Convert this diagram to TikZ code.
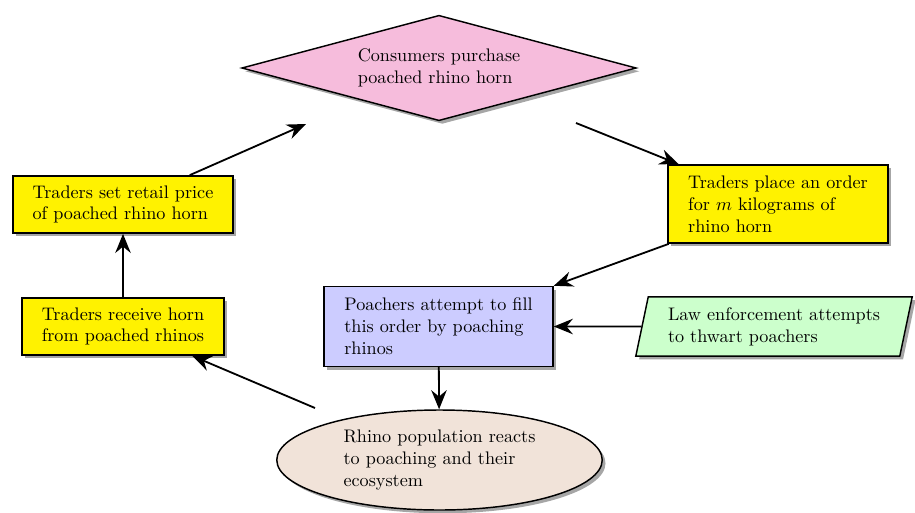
\documentclass[tikz,border=0pt]{standalone}
\usetikzlibrary{shapes.geometric,shadows,arrows.meta}
\definecolor{boxyellow}{RGB}{255,242,0}
\definecolor{diapink}{RGB}{246,188,220}
\definecolor{poachblue}{RGB}{204,204,255}
\definecolor{lawgreen}{RGB}{204,255,204}
\definecolor{rhinobeige}{RGB}{241,227,217}
\begin{document}
\begin{tikzpicture}[x=0.55pt,y=-0.55pt,
  base/.style={draw=black, thick, align=left,
    drop shadow={shadow xshift=1.8pt, shadow yshift=-1.8pt, opacity=0.7}},
  ybox/.style={base, rectangle, fill=boxyellow, inner sep=0pt},
  arr/.style={-{Stealth[length=10.5pt,width=8.5pt,inset=3.5pt]}, line width=1pt}]
\useasboundingbox (0,0) rectangle (915,512);

\node[base, diamond, fill=diapink, minimum width=217pt, minimum height=58pt,
      shape aspect=3.6, inner sep=1pt] (cons) at (439,68)
      {Consumers purchase\\poached rhino horn};
\node[ybox, minimum width=121pt, minimum height=31.5pt] (retail) at (123,204.5)
      {Traders set retail price\\of poached rhino horn};
\node[ybox, minimum width=111pt, minimum height=31.5pt] (receive) at (123,326.5)
      {Traders receive horn\\from poached rhinos};
\node[ybox, minimum width=121pt, minimum height=43pt] (order) at (778,204)
      {Traders place an order\\for $m$ kilograms of\\rhino horn};
\node[base, rectangle, fill=poachblue, inner sep=0pt, minimum width=126pt,
      minimum height=44pt] (poach) at (438.5,326.5)
      {Poachers attempt to fill\\this order by poaching\\rhinos};
\node[base, trapezium, trapezium left angle=72, trapezium right angle=108,
      trapezium stretches body, fill=lawgreen, inner sep=0pt,
      minimum width=152pt, minimum height=32.5pt] (law) at (774,326.5)
      {Law enforcement attempts\\to thwart poachers};
\node[base, ellipse, fill=rhinobeige, inner sep=0pt, minimum width=179pt,
      minimum height=55pt] (rhino) at (439.5,460)
      {Rhino population reacts\\to poaching and their\\ecosystem};

\coordinate (c1) at (306,124);
\coordinate (c2) at (576,123);
\coordinate (c3) at (315,408);

\draw[arr] (retail) -- (c1);
\draw[arr] (c2) -- (order);
\draw[arr] (order) -- (poach.north east);
\draw[arr] (law) -- (poach);
\draw[arr] (poach) -- (rhino);
\draw[arr] (c3) -- (receive);
\draw[arr] (receive) -- (retail);
\end{tikzpicture}
\end{document}
